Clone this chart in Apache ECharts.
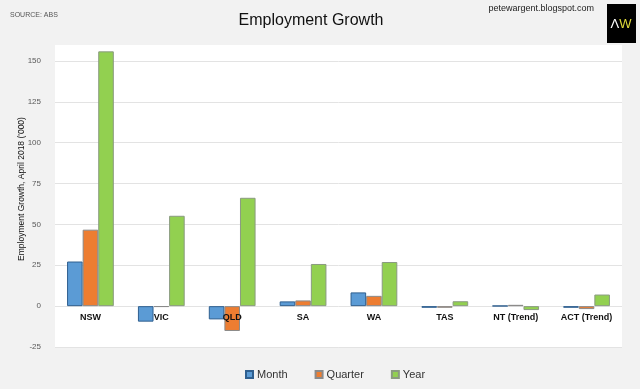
<!DOCTYPE html>
<html><head><meta charset="utf-8">
<script src="https://cdn.jsdelivr.net/npm/echarts@6/dist/echarts.min.js"></script>
<style>html,body{margin:0;padding:0;background:#f2f2f2}#c{width:640px;height:389px}</style>
</head><body><div id="c"></div>
<script>
const categories = ['NSW','VIC','QLD','SA','WA','TAS','NT (Trend)','ACT (Trend)'];
const month   = [27.3, -9.5, -8.1, 2.9, 8.4, -1.0, 0.2, -1.0];
const quarter = [46.8, -0.5, -15.2, 3.5, 6.3, -1.0, 0.8, -1.8];
const year    = [155.9, 55.3, 66.3, 25.8, 27.0, 3.0, -2.4, 7.1];
const yTicks = {min: -25, max: 150, interval: 25};

const FONT = '"Liberation Sans Narrow","Liberation Sans",Arial,sans-serif';
const chart = echarts.init(document.getElementById('c'), null, {renderer:'canvas'});
function bar(name, data, color, border){
  return {name, type:'bar', data, barGap:'0%', barCategoryGap:'34%', clip:false,
    itemStyle:{color, borderColor:border, borderWidth:1}};
}
chart.setOption({
  backgroundColor:'#f2f2f2',
  animation:false,
  textStyle:{fontFamily:FONT},
  graphic:[
    {type:'rect', shape:{x:55,y:45,width:567,height:302}, style:{fill:'#ffffff'}, z:-10, silent:true},
    {type:'text', x:10, y:15, style:{text:'SOURCE: ABS', font:'7px '+FONT, fill:'#555', verticalAlign:'middle'}},
    {type:'text', x:311, y:21, style:{text:'Employment Growth', font:'16px '+FONT, fill:'#111', align:'center', verticalAlign:'middle'}},
    {type:'text', x:594, y:9, style:{text:'petewargent.blogspot.com', font:'9px '+FONT, fill:'#222', align:'right', verticalAlign:'middle'}},
    {type:'rect', shape:{x:607,y:4,width:29,height:39}, style:{fill:'#000'}},
    {type:'text', x:621, y:24, style:{text:'{a|Λ}{b|W}', align:'center', verticalAlign:'middle',
      rich:{a:{font:'13px '+FONT, fill:'#ffffff'}, b:{font:'13px '+FONT, fill:'#e0dc3a'}}}},
    {type:'text', x:22, y:189, rotation:Math.PI/2, style:{text:"Employment Growth, April 2018 ('000)", font:'8.5px '+FONT, fill:'#111', align:'center', verticalAlign:'middle'}}
  ],
  legend:{bottom:4, left:240, itemWidth:7, itemHeight:7, itemGap:27,
    icon:'rect', textStyle:{fontSize:11, color:'#333', fontFamily:FONT, padding:[0,0,0,-1]},
    data:['Month','Quarter','Year']},
  grid:{left:55, right:18, top:61, bottom:42},
  xAxis:{type:'category', data:categories, z:10, offset:-41,
    axisLine:{show:false},
    axisTick:{show:false},
    axisLabel:{fontSize:9, fontWeight:'bold', color:'#111', margin:7, interval:0}},
  yAxis:{type:'value', min:yTicks.min, max:yTicks.max, interval:yTicks.interval,
    axisLine:{show:false}, axisTick:{show:false},
    axisLabel:{fontSize:8, color:'#595959', margin:14},
    splitLine:{lineStyle:{color:'#e3e3e3'}}},
  series:[
    bar('Month', month, '#5b9bd5', '#2f5f8f'),
    bar('Quarter', quarter, '#ed7d31', '#8a8a8a'),
    bar('Year', year, '#92d050', '#8a9a80')
  ]
});
</script></body></html>
